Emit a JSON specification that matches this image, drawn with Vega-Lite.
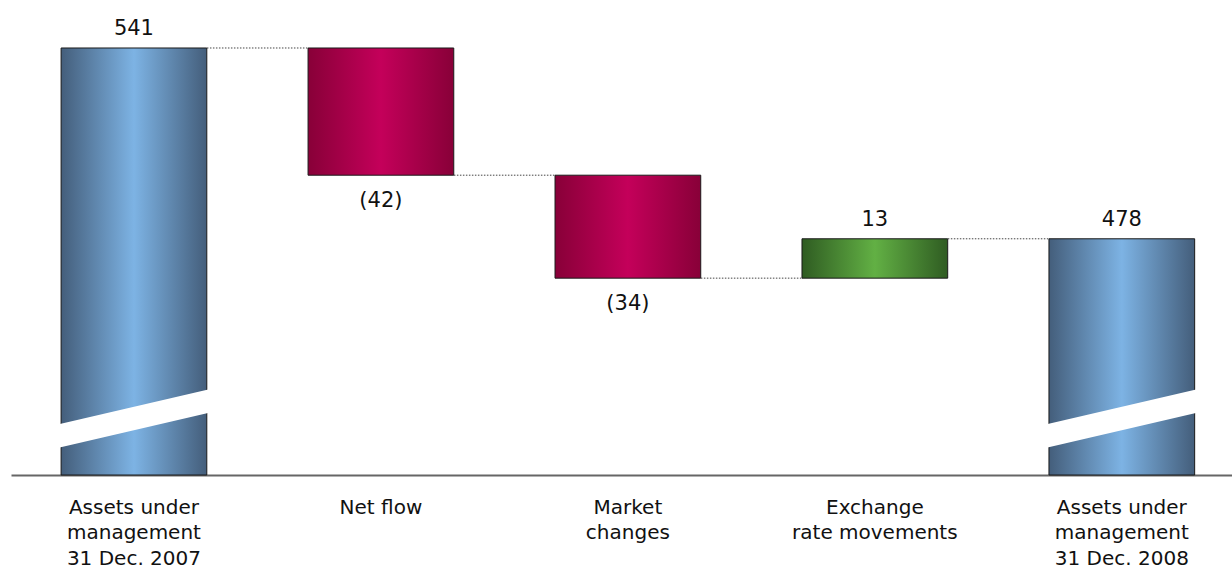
{
  "$schema": "https://vega.github.io/schema/vega-lite/v6.json",
  "width": 1221,
  "height": 475,
  "autosize": "none",
  "padding": {"left": 11, "top": 0, "right": 0, "bottom": 94},
  "background": "white",
  "config": {"view": {"stroke": null}, "font": "DejaVu Sans"},
  "datasets": {
    "bars": [
      {"cat": "Assets under|management|31 Dec. 2007", "start": 400, "end": 541, "kind": "total", "label": "541"},
      {"cat": "Net flow", "start": 541, "end": 499, "kind": "neg", "label": "(42)"},
      {"cat": "Market|changes", "start": 499, "end": 465, "kind": "neg", "label": "(34)"},
      {"cat": "Exchange|rate movements", "start": 465, "end": 478, "kind": "pos", "label": "13"},
      {"cat": "Assets under|management|31 Dec. 2008", "start": 400, "end": 478, "kind": "total", "label": "478"}
    ],
    "connectors": [
      {"from": "Assets under|management|31 Dec. 2007", "to": "Net flow", "level": 541},
      {"from": "Net flow", "to": "Market|changes", "level": 499},
      {"from": "Market|changes", "to": "Exchange|rate movements", "level": 465},
      {"from": "Exchange|rate movements", "to": "Assets under|management|31 Dec. 2008", "level": 478}
    ]
  },
  "layer": [
    {
      "data": {"name": "bars"},
      "transform": [{"filter": "datum.kind === 'total'"}],
      "mark": {
        "type": "bar",
        "stroke": "#1a1a1a",
        "strokeWidth": 1,
        "color": {"gradient": "linear", "x1": 0, "x2": 1, "y1": 0, "y2": 0,
          "stops": [{"offset": 0, "color": "#445e7b"}, {"offset": 0.5, "color": "#7db3e4"}, {"offset": 1, "color": "#445e7b"}]}
      },
      "encoding": {
        "x": {"field": "cat", "type": "nominal",
          "scale": {"domain": ["Assets under|management|31 Dec. 2007", "Net flow", "Market|changes", "Exchange|rate movements", "Assets under|management|31 Dec. 2008"],
            "paddingInner": 0.41, "paddingOuter": 0.177, "align": 0.573},
          "axis": {"title": null, "labelAngle": 0, "ticks": false, "domainColor": "#666666", "domainWidth": 2,
            "labelExpr": "split(datum.label, '|')", "labelFontSize": 20, "labelColor": "#111111",
            "labelFont": "DejaVu Sans", "labelLineHeight": 25.5, "labelPadding": 22, "labelBaseline": "top"}},
        "y": {"field": "start", "type": "quantitative", "scale": {"domain": [400, 556.85], "nice": false, "zero": false}, "axis": null},
        "y2": {"field": "end"}
      }
    },
    {
      "data": {"name": "bars"},
      "transform": [{"filter": "datum.kind === 'neg'"}],
      "mark": {
        "type": "bar",
        "stroke": "#1a1a1a",
        "strokeWidth": 1,
        "color": {"gradient": "linear", "x1": 0, "x2": 1, "y1": 0, "y2": 0,
          "stops": [{"offset": 0, "color": "#880038"}, {"offset": 0.5, "color": "#c4005a"}, {"offset": 1, "color": "#880038"}]}
      },
      "encoding": {
        "x": {"field": "cat", "type": "nominal", "axis": {"title": null}},
        "y": {"field": "start", "type": "quantitative"},
        "y2": {"field": "end"}
      }
    },
    {
      "data": {"name": "bars"},
      "transform": [{"filter": "datum.kind === 'pos'"}],
      "mark": {
        "type": "bar",
        "stroke": "#1a1a1a",
        "strokeWidth": 1,
        "color": {"gradient": "linear", "x1": 0, "x2": 1, "y1": 0, "y2": 0,
          "stops": [{"offset": 0, "color": "#2f5c22"}, {"offset": 0.5, "color": "#62b044"}, {"offset": 1, "color": "#2f5c22"}]}
      },
      "encoding": {
        "x": {"field": "cat", "type": "nominal", "axis": {"title": null}},
        "y": {"field": "start", "type": "quantitative"},
        "y2": {"field": "end"}
      }
    },
    {
      "data": {"name": "bars"},
      "transform": [{"filter": "datum.kind === 'total'"}],
      "mark": {"type": "rule", "color": "white", "strokeWidth": 23, "strokeCap": "butt", "xOffset": -93, "x2Offset": 93},
      "encoding": {
        "x": {"field": "cat", "type": "nominal", "axis": {"title": null}},
        "x2": {"field": "cat"},
        "y": {"datum": 411.5, "type": "quantitative"},
        "y2": {"datum": 425.8}
      }
    },
    {
      "data": {"name": "connectors"},
      "mark": {"type": "rule", "color": "#444444", "strokeWidth": 1, "strokeDash": [1.5, 1.5], "xOffset": 73, "x2Offset": -73},
      "encoding": {
        "x": {"field": "from", "type": "nominal", "axis": {"title": null}},
        "x2": {"field": "to"},
        "y": {"field": "level", "type": "quantitative"}
      }
    },
    {
      "data": {"name": "bars"},
      "transform": [{"filter": "datum.kind !== 'neg'"}],
      "mark": {"type": "text", "fontSize": 21, "color": "#111111", "baseline": "alphabetic", "dy": -13, "font": "DejaVu Sans"},
      "encoding": {
        "x": {"field": "cat", "type": "nominal", "axis": {"title": null}},
        "y": {"field": "end", "type": "quantitative"},
        "text": {"field": "label"}
      }
    },
    {
      "data": {"name": "bars"},
      "transform": [{"filter": "datum.kind === 'neg'"}],
      "mark": {"type": "text", "fontSize": 21, "color": "#111111", "baseline": "top", "dy": 15, "font": "DejaVu Sans"},
      "encoding": {
        "x": {"field": "cat", "type": "nominal", "axis": {"title": null}},
        "y": {"field": "end", "type": "quantitative"},
        "text": {"field": "label"}
      }
    }
  ]
}
